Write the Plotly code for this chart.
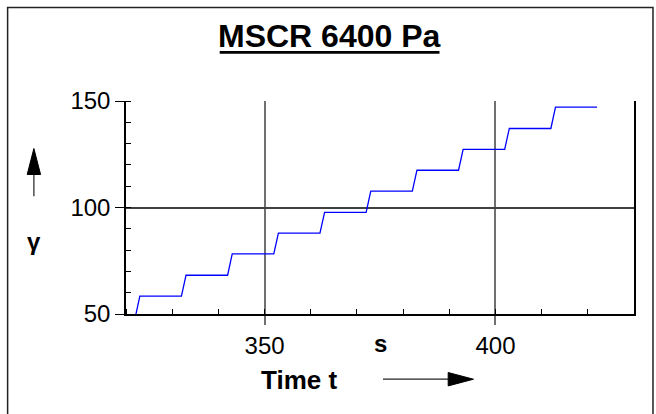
import plotly.graph_objects as go

# ---- data ----
time_s = [322.0, 323.0, 332.0, 333.0, 342.0, 343.0, 352.0, 353.0, 362.0, 363.0,
          372.0, 373.0, 382.0, 383.0, 392.0, 393.0, 402.0, 403.0, 412.0, 413.0, 422.0]
gamma = [48.4, 58.4, 58.4, 68.2, 68.2, 78.2, 78.2, 88.0, 88.0, 97.7,
         97.7, 107.7, 107.7, 117.5, 117.5, 127.3, 127.3, 137.1, 137.1, 147.1, 147.1]
x_ticks = [350, 400]
y_ticks = [50, 100, 150]
x_range = [320, 430]
y_range = [50, 150]

title_text = "MSCR 6400 Pa"
x_title = "Time t"
x_unit = "s"
y_title = "γ"

W, H = 656, 414
L, R, T, B = 125.5, 634.0, 100.7, 314.0
FONT = "Liberation Sans, Arial, Helvetica, sans-serif"


def px(x):
    return (x - L) / (R - L)


def py(y):
    return (B - y) / (B - T)


fig = go.Figure()
fig.add_trace(go.Scatter(x=time_s, y=gamma, mode="lines",
                         line=dict(color="#0000ff", width=1.3),
                         hoverinfo="skip", showlegend=False))

fig.update_layout(
    width=W, height=H,
    margin=dict(l=L, r=W - R, t=T, b=H - B),
    paper_bgcolor="white", plot_bgcolor="white",
    font=dict(family=FONT, color="black"),
    showlegend=False,
)

fig.update_xaxes(
    range=x_range, tickvals=x_ticks, ticktext=[str(v) for v in x_ticks],
    showgrid=True, gridcolor="#707070", gridwidth=1.6,
    showline=True, linecolor="black", linewidth=1.5, mirror=False,
    ticks="outside", ticklen=9, tickcolor="#707070", tickwidth=1.6,
    tickfont=dict(size=24, family=FONT, color="black"),
    minor=dict(ticks="inside", ticklen=5, dtick=10, tick0=0,
               tickcolor="black", tickwidth=1, showgrid=False),
    zeroline=False, fixedrange=True,
)
fig.update_yaxes(
    range=y_range, tickvals=y_ticks, ticktext=[str(v) for v in y_ticks],
    showgrid=True, gridcolor="#404040", gridwidth=1.5,
    showline=True, linecolor="black", linewidth=1.5, mirror=True,
    ticks="outside", ticklen=9, tickcolor="black", tickwidth=1.3,
    tickfont=dict(size=24, family=FONT, color="black"),
    minor=dict(ticks="inside", ticklen=5, dtick=10, tick0=0,
               tickcolor="black", tickwidth=1, showgrid=False),
    zeroline=False, fixedrange=True,
)

annotations = [
    dict(text="<b>" + title_text + "</b>", xref="paper", yref="paper",
         x=px(329.3), y=py(35.3), xanchor="center", yanchor="middle",
         showarrow=False, font=dict(size=32, family=FONT, color="black")),
    dict(text="<b>" + x_unit + "</b>", xref="x", yref="paper",
         x=375, y=py(344), xanchor="center", yanchor="middle",
         showarrow=False, font=dict(size=24, family=FONT, color="black")),
    dict(text="<b>" + x_title + "</b>", xref="paper", yref="paper",
         x=px(298.7), y=py(380), xanchor="center", yanchor="middle",
         showarrow=False, font=dict(size=26, family=FONT, color="black")),
    dict(text="<b>" + y_title + "</b>", xref="paper", yref="paper",
         x=px(33.3), y=py(241.7), xanchor="center", yanchor="middle",
         showarrow=False, font=dict(size=24, family=FONT, color="black")),
]
fig.update_layout(annotations=annotations)


def path(points):
    return "M " + " L ".join(f"{px(a):.5f},{py(b):.5f}" for a, b in points) + " Z"


shapes = [
    # outer frame
    dict(type="rect", xref="paper", yref="paper",
         x0=px(7), y0=py(7), x1=px(653), y1=py(425),
         line=dict(color="#222222", width=1.5), layer="above"),
    # title underline
    dict(type="line", xref="paper", yref="paper",
         x0=px(219.3), x1=px(439.3), y0=py(52), y1=py(52),
         line=dict(color="black", width=2.7)),
    # x arrow
    dict(type="line", xref="paper", yref="paper",
         x0=px(382.7), x1=px(450), y0=py(379.3), y1=py(379.3),
         line=dict(color="#222222", width=1.2)),
    dict(type="path", xref="paper", yref="paper",
         path=path([(448, 372.6), (473.3, 379.3), (448, 386)]),
         fillcolor="black", line=dict(color="black", width=1)),
    # y arrow
    dict(type="line", xref="paper", yref="paper",
         x0=px(33.3), x1=px(33.3), y0=py(196), y1=py(172),
         line=dict(color="#222222", width=1.2)),
    dict(type="path", xref="paper", yref="paper",
         path=path([(26.6, 174.3), (33.3, 148.3), (40, 174.3)]),
         fillcolor="black", line=dict(color="black", width=1)),
]
fig.update_layout(shapes=shapes)

fig.write_html("out.html", config={"displayModeBar": False},
               post_script="document.body.style.margin='0';document.body.style.overflow='hidden';")
